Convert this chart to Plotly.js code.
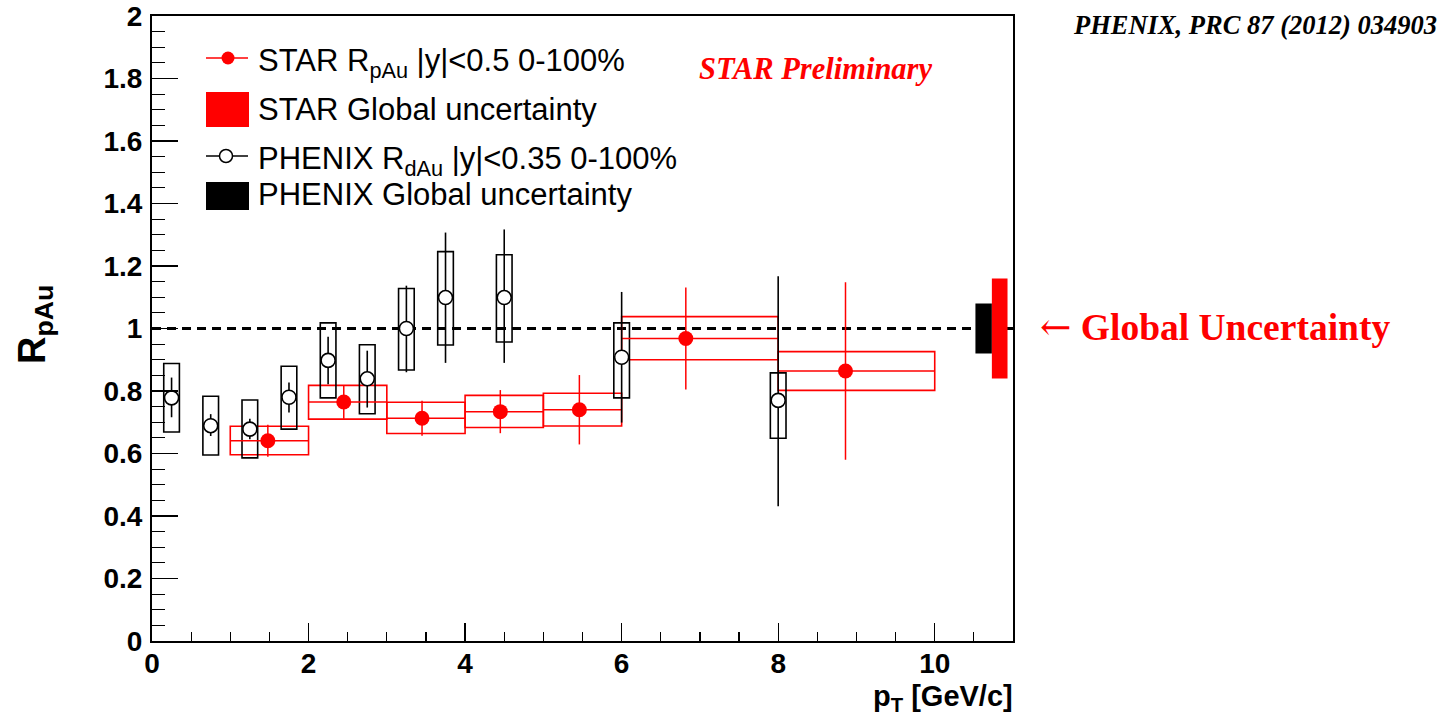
<!DOCTYPE html>
<html>
<head>
<meta charset="utf-8">
<script src="https://cdn.plot.ly/plotly-3.0.1.min.js"></script>
<style>
  html, body { margin: 0; padding: 0; background: #fff; }
  #plot { width: 1447px; height: 724px; }
</style>
</head>
<body>
<div id="plot"></div>
<script>
// ---------------- DATA ----------------
// STAR R_pAu |y|<0.5 0-100%
const starX      = [1.48, 2.45, 3.45, 4.45, 5.46, 6.82, 8.86];
const starY      = [0.641, 0.765, 0.713, 0.734, 0.740, 0.968, 0.864];
const starStat   = [0.051, 0.054, 0.056, 0.069, 0.111, 0.163, 0.284];
const starBinLo  = [1, 2, 3, 4, 5, 6, 8];
const starBinHi  = [2, 3, 4, 5, 6, 8, 10];
const starSysLo  = [0.596, 0.710, 0.664, 0.683, 0.688, 0.900, 0.802];
const starSysHi  = [0.687, 0.818, 0.764, 0.786, 0.793, 1.038, 0.926];

// PHENIX R_dAu |y|<0.35 0-100%
const phenixX      = [0.25, 0.75, 1.25, 1.75, 2.25, 2.75, 3.25, 3.75, 4.5, 6.0, 8.0];
const phenixY      = [0.778, 0.689, 0.678, 0.780, 0.898, 0.839, 1.000, 1.099, 1.099, 0.908, 0.770];
const phenixStatUp = [0.065, 0.037, 0.033, 0.047, 0.076, 0.090, 0.137, 0.208, 0.218, 0.209, 0.397];
const phenixStatDn = [0.062, 0.033, 0.032, 0.049, 0.076, 0.092, 0.140, 0.209, 0.209, 0.209, 0.339];
const phenixSysLo  = [0.669, 0.595, 0.586, 0.678, 0.778, 0.727, 0.867, 0.947, 0.957, 0.778, 0.649];
const phenixSysHi  = [0.888, 0.783, 0.771, 0.879, 1.018, 0.948, 1.128, 1.246, 1.236, 1.018, 0.858];
const phenixBoxHalfWidth = 0.1;

// Global uncertainties (relative, around 1)
const phenixGlobal = 0.080;
const starGlobal   = 0.160;
const referenceLevel = 1;

// Axis ranges
const xRange = [0, 11];
const yRange = [0, 2];

// Text
const legendLabels = [
  "STAR R<sub>pAu</sub> |y|&lt;0.5 0-100%",
  "STAR Global uncertainty",
  "PHENIX R<sub>dAu</sub> |y|&lt;0.35 0-100%",
  "PHENIX Global uncertainty"
];

// ---------------- LAYOUT HELPERS ----------------
const L = 152, R = 1013, T = 16, B = 641;
const W = R - L, H = B - T;
const px = x => (x - L) / W;
const py = y => (B - y) / H;

const RED = "#ff0000";
const sans = "Liberation Sans, Arial, Helvetica, sans-serif";
const serif = "Liberation Serif, Times New Roman, serif";

// ---------------- TRACES ----------------
const starTrace = {
  type: "scatter", mode: "markers",
  x: starX, y: starY,
  marker: { color: RED, size: 15, symbol: "circle", line: { width: 0 } },
  error_y: { type: "data", array: starStat, symmetric: true, color: RED, thickness: 1.5, width: 0 },
  error_x: { type: "data",
             array: starX.map((x, i) => starBinHi[i] - x),
             arrayminus: starX.map((x, i) => x - starBinLo[i]),
             symmetric: false, color: RED, thickness: 1.5, width: 0 },
  showlegend: false, hoverinfo: "x+y"
};

const phenixTrace = {
  type: "scatter", mode: "markers",
  x: phenixX, y: phenixY,
  marker: { color: "#ffffff", size: 14, symbol: "circle", line: { color: "#000000", width: 1.6 } },
  error_y: { type: "data", array: phenixStatUp, arrayminus: phenixStatDn, symmetric: false,
             color: "#000000", thickness: 1.6, width: 0 },
  showlegend: false, hoverinfo: "x+y"
};

// ---------------- SHAPES ----------------
const shapes = [];
shapes.push({ type: "line", xref: "x", yref: "y", x0: xRange[0], x1: xRange[1],
  y0: referenceLevel, y1: referenceLevel, layer: "below",
  line: { color: "#000", width: 3, dash: "9px,6px" } });

starX.forEach((x, i) => {
  shapes.push({ type: "rect", xref: "x", yref: "y", layer: "below",
    x0: starBinLo[i], x1: starBinHi[i], y0: starSysLo[i], y1: starSysHi[i],
    line: { color: RED, width: 1.6 }, fillcolor: "rgba(0,0,0,0)" });
});
phenixX.forEach((x, i) => {
  shapes.push({ type: "rect", xref: "x", yref: "y", layer: "below",
    x0: x - phenixBoxHalfWidth, x1: x + phenixBoxHalfWidth, y0: phenixSysLo[i], y1: phenixSysHi[i],
    line: { color: "#000", width: 1.6 }, fillcolor: "rgba(0,0,0,0)" });
});
shapes.push({ type: "rect", xref: "x", yref: "y", layer: "above",
  x0: 10.52, x1: 10.73, y0: referenceLevel - phenixGlobal, y1: referenceLevel + phenixGlobal,
  line: { width: 0 }, fillcolor: "#000" });
shapes.push({ type: "rect", xref: "x", yref: "y", layer: "above",
  x0: 10.73, x1: 10.93, y0: referenceLevel - starGlobal, y1: referenceLevel + starGlobal,
  line: { width: 0 }, fillcolor: RED });

// Legend glyphs (paper coords)
function legLine(yc, color) {
  shapes.push({ type: "line", xref: "paper", yref: "paper", x0: px(206), x1: px(248), y0: py(yc), y1: py(yc),
    line: { color: color, width: 1.5 } });
}
function legCircle(xc, yc, fill, lineColor) {
  shapes.push({ type: "circle", xref: "paper", yref: "paper", xsizemode: "pixel", ysizemode: "pixel",
    xanchor: px(xc), yanchor: py(yc), x0: -6.5, x1: 6.5, y0: -6.5, y1: 6.5,
    fillcolor: fill, line: { color: lineColor, width: lineColor === fill ? 0 : 1.5 } });
}
function legRect(y0, y1, color) {
  shapes.push({ type: "rect", xref: "paper", yref: "paper", x0: px(206), x1: px(249), y0: py(y1), y1: py(y0),
    fillcolor: color, line: { width: 0 } });
}
legLine(58, RED); legCircle(228, 58, RED, RED);
legRect(92, 127, RED);
legLine(156, "#000"); legCircle(226, 156, "#fff", "#000");
legRect(182, 210, "#000");

// ---------------- ANNOTATIONS ----------------
const annotations = [];
const legendY = [63, 109, 161, 194];
legendLabels.forEach((t, i) => {
  annotations.push({ xref: "paper", yref: "paper", x: px(256), y: py(legendY[i]),
    xanchor: "left", yanchor: "middle", text: t, showarrow: false,
    font: { family: sans, size: 31, color: "#000" } });
});
annotations.push({ xref: "paper", yref: "paper", x: px(815), y: py(69), xanchor: "center", yanchor: "middle",
  text: "STAR Preliminary", showarrow: false,
  font: { family: serif, size: 30.5, color: RED, weight: "bold", style: "italic" } });
annotations.push({ xref: "paper", yref: "paper", x: px(1439), y: py(25), xanchor: "right", yanchor: "middle",
  text: "PHENIX, PRC 87 (2012) 034903", showarrow: false,
  font: { family: serif, size: 26.5, color: "#000", weight: "bold", style: "italic" } });
annotations.push({ xref: "paper", yref: "paper", x: px(1038), y: py(327), xanchor: "left", yanchor: "middle",
  text: "<span style=\"font-family:'DejaVu Serif';font-weight:normal\">\u2190</span> Global Uncertainty", showarrow: false,
  font: { family: serif, size: 37.5, color: RED, weight: "bold" } });
// axis titles
annotations.push({ xref: "paper", yref: "paper", x: px(35), y: py(325), xanchor: "center", yanchor: "middle",
  text: "R<sub>pAu</sub>", textangle: -90, showarrow: false,
  font: { family: sans, size: 38, color: "#000", weight: "bold" } });
annotations.push({ xref: "paper", yref: "paper", x: px(1015), y: py(678), xanchor: "right", yanchor: "top",
  text: "p<sub>T</sub> [GeV/c]", showarrow: false,
  font: { family: sans, size: 29, color: "#000", weight: "bold" } });

// ---------------- LAYOUT ----------------
const tickFont = { family: sans, size: 28, color: "#000", weight: "bold" };
const layout = {
  width: 1447, height: 724,
  margin: { l: L, r: 1447 - R, t: T, b: 724 - B, pad: 0 },
  paper_bgcolor: "#fff", plot_bgcolor: "#fff",
  showlegend: false,
  xaxis: {
    range: xRange, dtick: 2, tick0: 0, ticks: "inside", ticklen: 18, tickwidth: 1.2, tickcolor: "#000",
    minor: { ticks: "inside", dtick: 0.5, ticklen: 9, tickwidth: 1.2, tickcolor: "#000" },
    showgrid: false, zeroline: false, showline: true, linecolor: "#000", linewidth: 2, mirror: true,
    tickfont: tickFont, ticklabelstandoff: -4, fixedrange: true
  },
  yaxis: {
    range: yRange, dtick: 0.2, tick0: 0, ticks: "inside", ticklen: 26, tickwidth: 1.2, tickcolor: "#000",
    minor: { ticks: "inside", dtick: 0.05, ticklen: 13, tickwidth: 1.2, tickcolor: "#000" },
    showgrid: false, zeroline: false, showline: true, linecolor: "#000", linewidth: 2, mirror: true,
    tickfont: tickFont, ticklabelstandoff: 2, fixedrange: true
  },
  shapes: shapes,
  annotations: annotations
};

Plotly.newPlot("plot", [starTrace, phenixTrace], layout, { staticPlot: true, displayModeBar: false });
</script>
</body>
</html>
